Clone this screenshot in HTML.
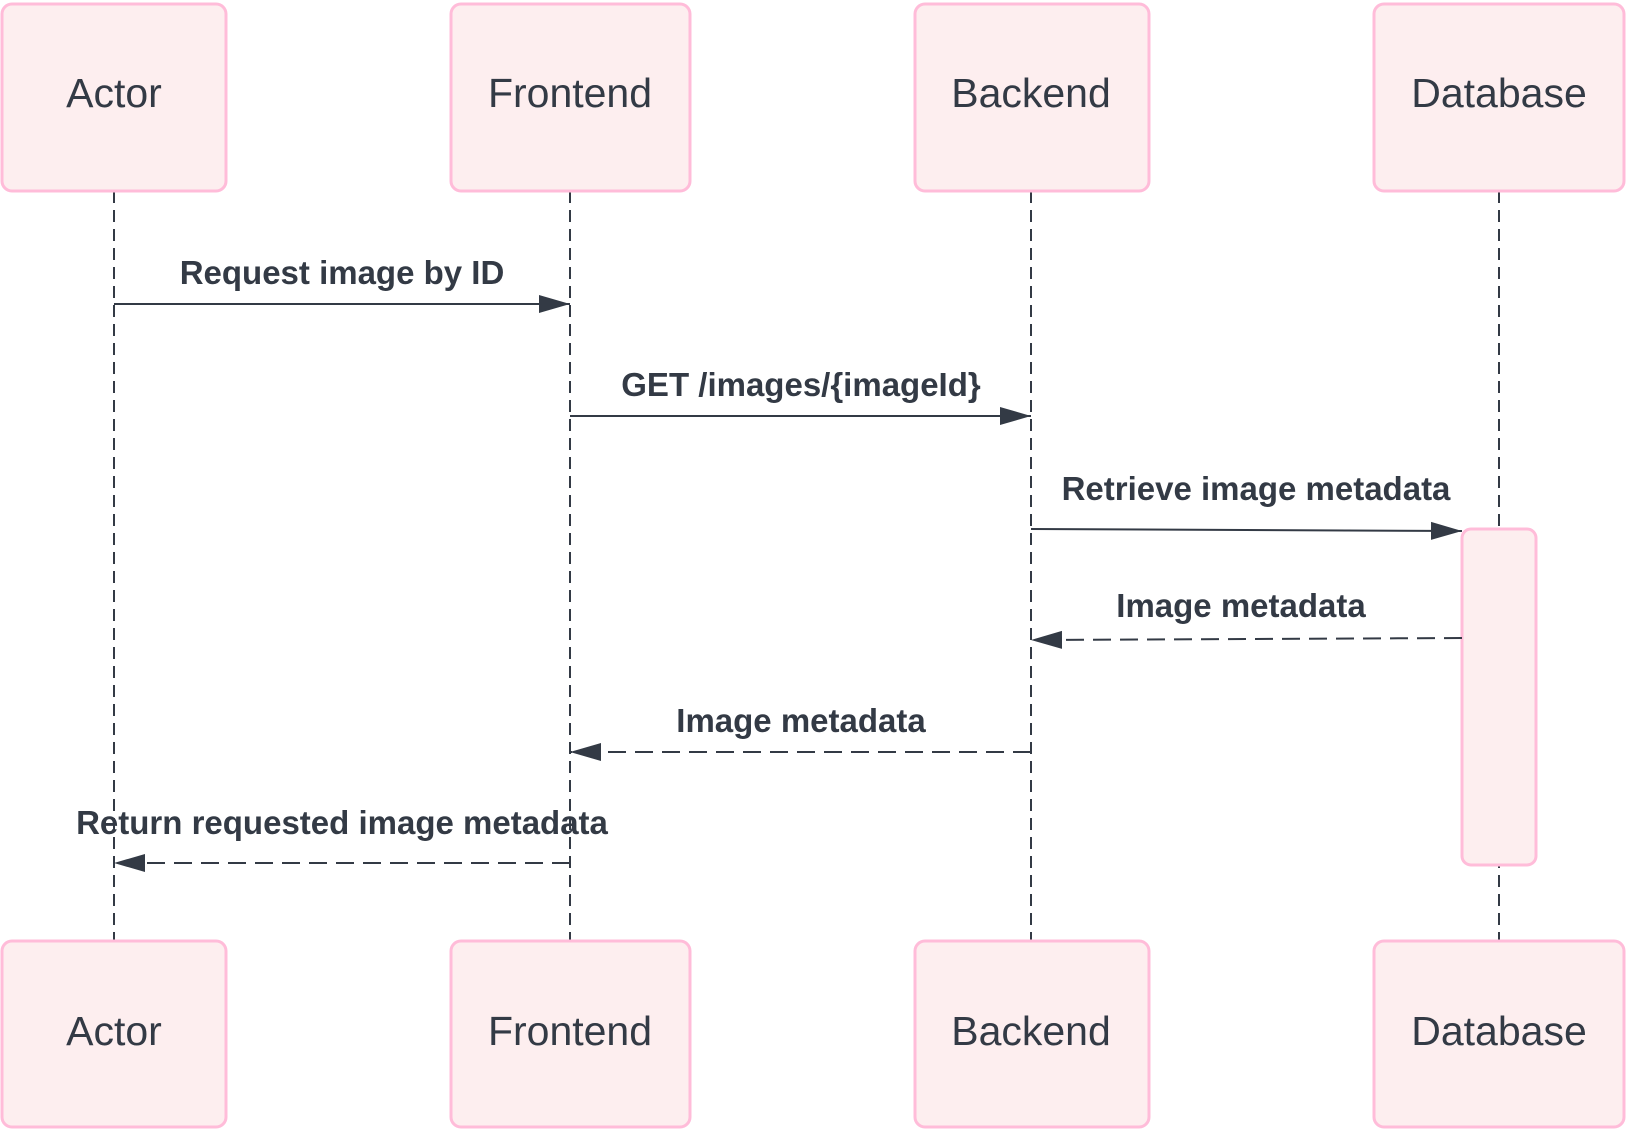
<!DOCTYPE html>
<html><head><meta charset="utf-8"><style>
html,body{margin:0;padding:0;background:#fff;}
svg{display:block;}
text{font-family:"Liberation Sans",Arial,sans-serif;fill:#333a45;}
.b{font-size:41px;}
.l{font-size:33px;font-weight:bold;}
</style></head><body>
<svg width="1626" height="1129" viewBox="0 0 1626 1129" xmlns="http://www.w3.org/2000/svg">
<defs>
<marker id="ah" markerWidth="32" markerHeight="20" refX="31" refY="10" orient="auto" markerUnits="userSpaceOnUse">
<path d="M0,1 L31,10 L0,19 Z" fill="#333a45"/>
</marker>
</defs>
<g stroke="#333a45" stroke-width="2" stroke-dasharray="12,7" fill="none">
<line x1="114" y1="191" x2="114" y2="942"/>
<line x1="570" y1="191" x2="570" y2="942"/>
<line x1="1031" y1="191" x2="1031" y2="942"/>
<line x1="1499" y1="191" x2="1499" y2="942"/>
</g>
<g fill="#fdeeef" stroke="#ffbcd9" stroke-width="3">
<rect x="2" y="4" width="224" height="187" rx="10"/>
<rect x="451" y="4" width="239" height="187" rx="10"/>
<rect x="915" y="4" width="234" height="187" rx="10"/>
<rect x="1374" y="4" width="250" height="187" rx="10"/>
<rect x="2" y="941" width="224" height="186" rx="10"/>
<rect x="451" y="941" width="239" height="186" rx="10"/>
<rect x="915" y="941" width="234" height="186" rx="10"/>
<rect x="1374" y="941" width="250" height="186" rx="10"/>
<rect x="1462" y="529" width="74" height="336" rx="9"/>
</g>
<g class="b" text-anchor="middle">
<text x="114" y="107">Actor</text>
<text x="570" y="107">Frontend</text>
<text x="1031" y="107">Backend</text>
<text x="1499" y="107">Database</text>
<text x="114" y="1045">Actor</text>
<text x="570" y="1045">Frontend</text>
<text x="1031" y="1045">Backend</text>
<text x="1499" y="1045">Database</text>
</g>
<g stroke="#333a45" stroke-width="2" fill="none">
<line x1="114" y1="304" x2="570" y2="304" marker-end="url(#ah)"/>
<line x1="570" y1="416" x2="1031" y2="416" marker-end="url(#ah)"/>
<line x1="1031" y1="529" x2="1462" y2="531" marker-end="url(#ah)"/>
<line x1="1462" y1="638" x2="1031" y2="640" stroke-dasharray="18,9" marker-end="url(#ah)"/>
<line x1="1031" y1="752" x2="570" y2="752" stroke-dasharray="18,9" marker-end="url(#ah)"/>
<line x1="570" y1="863" x2="114" y2="863" stroke-dasharray="18,9" marker-end="url(#ah)"/>
</g>
<g class="l" text-anchor="middle">
<text x="342" y="284">Request image by ID</text>
<text x="801" y="396">GET /images/{imageId}</text>
<text x="1256" y="500">Retrieve image metadata</text>
<text x="1241" y="617">Image metadata</text>
<text x="801" y="732">Image metadata</text>
<text x="342" y="834">Return requested image metadata</text>
</g>
</svg>
</body></html>
